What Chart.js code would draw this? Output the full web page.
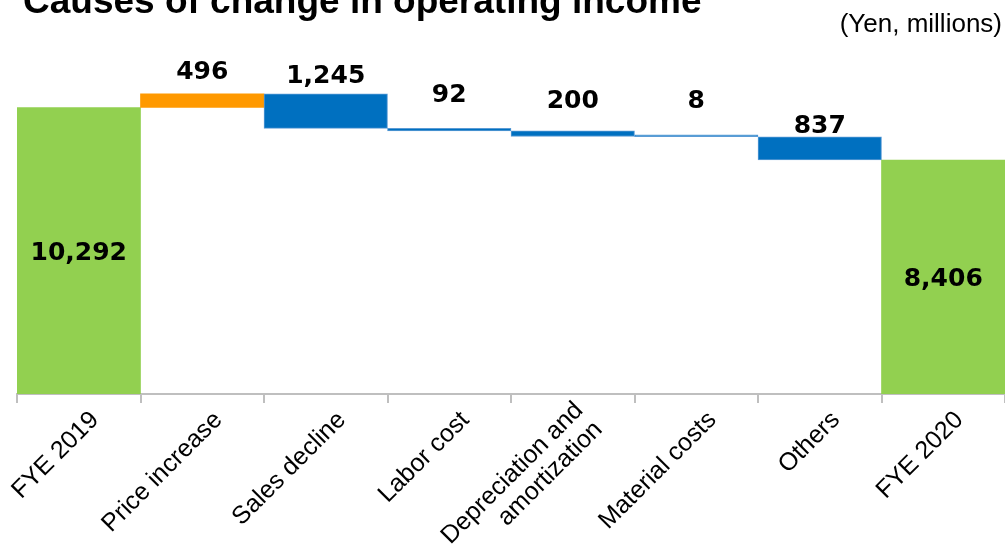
<!DOCTYPE html>
<html>
<head>
<meta charset="utf-8">
<script src="https://cdn.jsdelivr.net/npm/chart.js@4.4.0/dist/chart.umd.min.js"></script>
<style>
  html, body { margin: 0; padding: 0; background: #fff; }
  canvas { display: block; }
</style>
</head>
<body>
<canvas id="mycanvas" width="1005" height="556"></canvas>
<script>
// operating income bridge, yen millions
var categories = ['FYE 2019', 'Price increase', 'Sales decline', 'Labor cost',
                  ['Depreciation and', 'amortization'], 'Material costs', 'Others', 'FYE 2020'];
var openingIncome = 10292;
var changes = [496, -1245, -92, -200, -8, -837];
var closingIncome = 8406;
var yRange = [0, 12000];

// how far each value sits above its step (px); null = inside the bar
var labelLift = [null, 15, 11, 26, 23, 27, 4, null];

var ranges = [[0, openingIncome]];
var amounts = [openingIncome];
var running = openingIncome;
changes.forEach(function(c){
  ranges.push([running, running + c]);
  amounts.push(Math.abs(c));
  running += c;
});
ranges.push([0, closingIncome]);
amounts.push(closingIncome);

var last = ranges.length - 1;
var fills = ranges.map(function(r, i){
  if (i === 0 || i === last) return '#92d050';
  return changes[i - 1] > 0 ? '#ff9900' : '#0070c0';
});
var edges = ranges.map(function(r, i){
  return (i > 0 && i < last && changes[i - 1] < 0) ? '#5b9bd5' : 'rgba(0,0,0,0)';
});
var edgeWidths = ranges.map(function(r, i){
  return (i > 0 && i < last && changes[i - 1] < 0) ? 1 : 0;
});

var textPlugin = {
  id: 'bridgeText',
  beforeDraw: function(chart){
    var ctx = chart.ctx;
    ctx.save();
    ctx.fillStyle = '#fff';
    ctx.fillRect(0, 0, chart.width, chart.height);
    ctx.restore();
  },
  afterDraw: function(chart){
    var ctx = chart.ctx;
    var meta = chart.getDatasetMeta(0);
    var xs = chart.scales.x;
    ctx.save();
    ctx.fillStyle = '#000';
    ctx.textBaseline = 'alphabetic';

    ctx.font = 'bold 37px "Liberation Sans", Arial, sans-serif';
    ctx.textAlign = 'left';
    ctx.fillText('Causes of change in operating income', 23, 13);

    ctx.font = '26px "Liberation Sans", Arial, sans-serif';
    ctx.textAlign = 'right';
    ctx.fillText('(Yen, millions)', 1002, 32);

    // amounts
    ctx.font = 'bold 25px "DejaVu Sans", Verdana, sans-serif';
    ctx.textAlign = 'center';
    meta.data.forEach(function(bar, i){
      var top = Math.min(bar.y, bar.base);
      var bottom = Math.max(bar.y, bar.base);
      var y = labelLift[i] === null ? (top + bottom) / 2 + 9 : top - labelLift[i];
      ctx.fillText(amounts[i].toLocaleString('en-US'), bar.x, y);
    });

    // slanted category names
    ctx.font = '25px "Liberation Sans", Arial, sans-serif';
    ctx.textAlign = 'right';
    categories.forEach(function(cat, i){
      var lines = [].concat(cat);
      ctx.save();
      ctx.translate(xs.getPixelForValue(i) + 21, xs.top + 27);
      ctx.rotate(-Math.PI / 4);
      lines.forEach(function(line, k){
        ctx.fillText(line, 0, (k - (lines.length - 1) / 2) * 27);
      });
      ctx.restore();
    });
    ctx.restore();
  }
};

var ctx = document.getElementById('mycanvas');
var bridge = new Chart(ctx, {
  type: 'bar',
  data: {
    labels: categories,
    datasets: [{
      data: ranges,
      backgroundColor: fills,
      borderColor: edges,
      borderWidth: edgeWidths,
      borderSkipped: false,
      minBarLength: 2,
      barPercentage: 1,
      categoryPercentage: 1
    }]
  },
  options: {
    responsive: false,
    animation: false,
    events: [],
    layout: { padding: { left: 17, right: 0, top: 60, bottom: 153 } },
    plugins: {
      legend: { display: false },
      title: { display: false },
      tooltip: { enabled: false }
    },
    scales: {
      x: {
        grid: {
          offset: true,
          drawOnChartArea: false,
          drawTicks: true,
          tickLength: 9,
          lineWidth: 2,
          color: '#bfbfbf'
        },
        border: { display: true, color: '#bfbfbf', width: 2 },
        ticks: { display: false }
      },
      y: {
        display: false,
        min: yRange[0],
        max: yRange[1]
      }
    }
  },
  plugins: [textPlugin]
});
</script>
</body>
</html>
